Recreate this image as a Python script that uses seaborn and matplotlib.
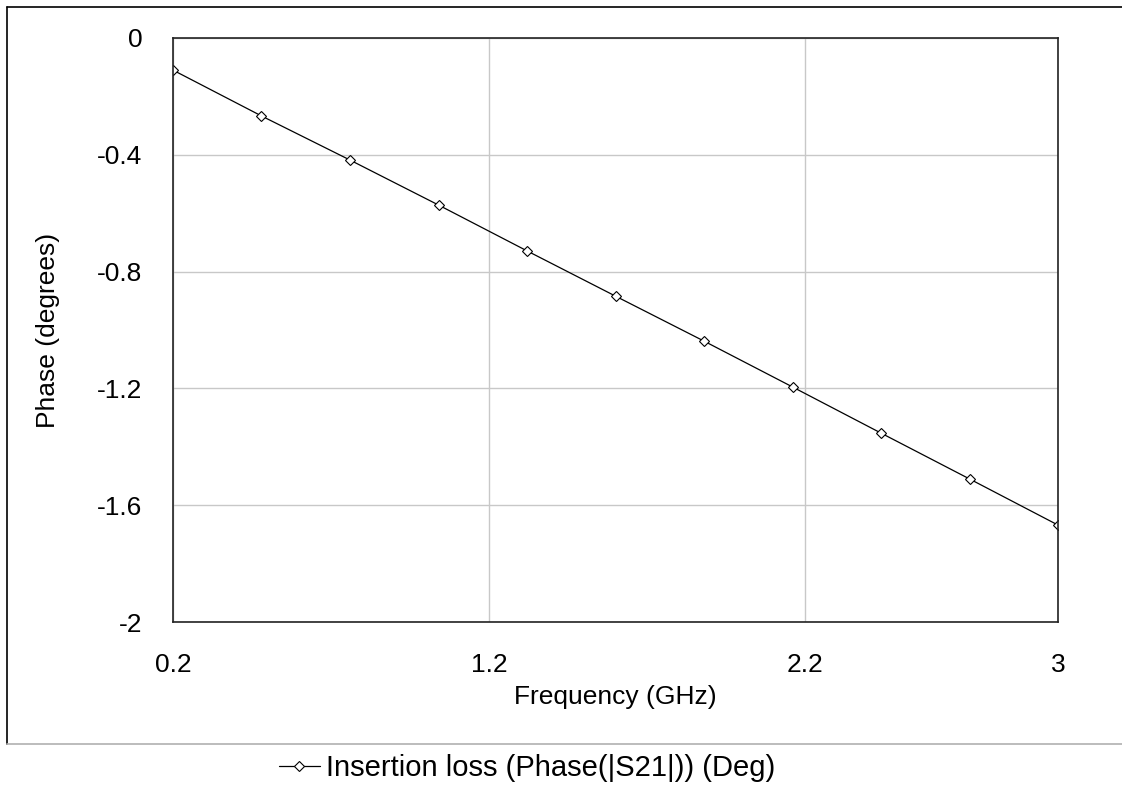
import numpy as np
import pandas as pd
import matplotlib
matplotlib.use("Agg")
import matplotlib.pyplot as plt
import seaborn as sns
from matplotlib.lines import Line2D

# data
freq_ghz = [0.2, 0.48, 0.76, 1.04, 1.32, 1.60, 1.88, 2.16, 2.44, 2.72, 3.0]
phase_deg = [-0.11, -0.267, -0.418, -0.572, -0.729, -0.884, -1.038, -1.195, -1.353, -1.51, -1.668]
x_ticks = [0.2, 1.2, 2.2, 3]
x_tick_labels = ["0.2", "1.2", "2.2", "3"]
y_ticks = [0, -0.4, -0.8, -1.2, -1.6, -2]
y_tick_labels = ["0", "-0.4", "-0.8", "-1.2", "-1.6", "-2"]
series_name = "Insertion loss (Phase(|S21|)) (Deg)"

df = pd.DataFrame({"Frequency": freq_ghz, "Phase": phase_deg})

sns.set_style("white")
plt.rcParams["font.family"] = ["Liberation Sans", "DejaVu Sans"]
plt.rcParams["text.color"] = "black"
plt.rcParams["axes.labelcolor"] = "black"
plt.rcParams["xtick.color"] = "black"
plt.rcParams["ytick.color"] = "black"

fig = plt.figure(figsize=(11.22, 7.90), dpi=100)
W, H = 1122, 790
ax = fig.add_axes([173 / W, 1 - 622 / H, (1058 - 173) / W, (622 - 38) / H])

sns.lineplot(data=df, x="Frequency", y="Phase", ax=ax, color="black", linewidth=0.9,
             marker="D", markersize=5.5, markerfacecolor="white", markeredgecolor="black",
             markeredgewidth=0.8, label=series_name)

ax.set_xlim(0.2, 3)
ax.set_ylim(-2, 0)
ax.set_xticks(x_ticks)
ax.set_xticklabels(x_tick_labels, fontsize=19)
ax.set_yticks(y_ticks)
ax.set_yticklabels(y_tick_labels, fontsize=19)
ax.tick_params(axis="x", length=0, pad=22)
ax.tick_params(axis="y", length=0, pad=22)
ax.grid(True, color="#c8c8c8", linewidth=1)
for s in ax.spines.values():
    s.set_color("#222222")
    s.set_linewidth(1.2)

ax.set_xlabel("Frequency (GHz)", fontsize=19, labelpad=6)
ax.set_ylabel("Phase (degrees)", fontsize=19, labelpad=27)

leg = ax.legend(loc="center", bbox_to_anchor=(527 / W, 1 - 768 / H),
                bbox_transform=fig.transFigure, frameon=False, fontsize=21,
                handlelength=1.4, handletextpad=0.2)

# outer chart frame
fig.add_artist(Line2D([7 / W, 7 / W], [1 - 7 / H, 1 - 744 / H], color="black", linewidth=1.2))
fig.add_artist(Line2D([7 / W, 1], [1 - 7 / H, 1 - 7 / H], color="black", linewidth=1.2))
fig.add_artist(Line2D([7 / W, 1], [1 - 744 / H, 1 - 744 / H], color="#b0b0b0", linewidth=1.2))

fig.savefig("out.png", dpi=100)
